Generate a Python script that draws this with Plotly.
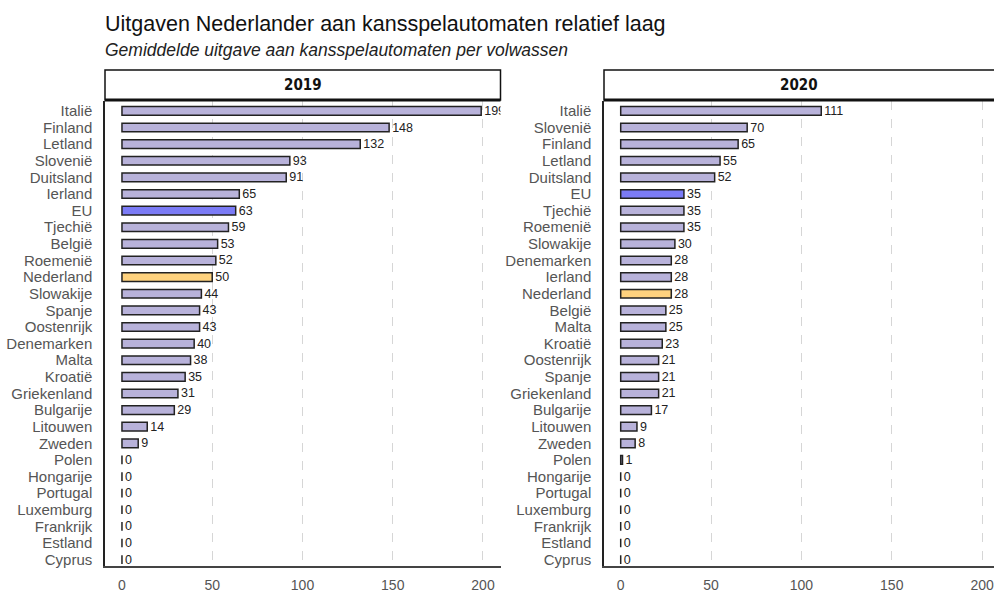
import plotly.graph_objects as go

# 2019
landen_2019 = ["Italië", "Finland", "Letland", "Slovenië", "Duitsland", "Ierland", "EU", "Tjechië",
               "België", "Roemenië", "Nederland", "Slowakije", "Spanje", "Oostenrijk", "Denemarken",
               "Malta", "Kroatië", "Griekenland", "Bulgarije", "Litouwen", "Zweden", "Polen",
               "Hongarije", "Portugal", "Luxemburg", "Frankrijk", "Estland", "Cyprus"]
uitgave_2019 = [199, 148, 132, 93, 91, 65, 63, 59, 53, 52, 50, 44, 43, 43, 40, 38, 35, 31, 29, 14, 9,
                0, 0, 0, 0, 0, 0, 0]

# 2020
landen_2020 = ["Italië", "Slovenië", "Finland", "Letland", "Duitsland", "EU", "Tjechië", "Roemenië",
               "Slowakije", "Denemarken", "Ierland", "Nederland", "België", "Malta", "Kroatië",
               "Oostenrijk", "Spanje", "Griekenland", "Bulgarije", "Litouwen", "Zweden", "Polen",
               "Hongarije", "Portugal", "Luxemburg", "Frankrijk", "Estland", "Cyprus"]
uitgave_2020 = [111, 70, 65, 55, 52, 35, 35, 35, 30, 28, 28, 28, 25, 25, 23, 21, 21, 21, 17, 9, 8,
                1, 0, 0, 0, 0, 0, 0]

x_ticks = [0, 50, 100, 150, 200]

KLEUR_STANDAARD = "#b8b2da"
KLEUR_EU = "#7b7bf6"
KLEUR_NL = "#fed27e"
FONT = "Liberation Sans, Arial, sans-serif"


def kleur(land):
    if land == "EU":
        return KLEUR_EU
    if land == "Nederland":
        return KLEUR_NL
    return KLEUR_STANDAARD


def staaf(landen, waarden, xa, ya):
    return go.Bar(
        x=waarden, y=landen, orientation="h", xaxis=xa, yaxis=ya,
        width=0.52,
        marker=dict(color=[kleur(l) for l in landen], line=dict(color="#222222", width=1.5)),
        text=[str(v) for v in waarden], textposition="outside", cliponaxis=True,
        constraintext="none",
        textfont=dict(family=FONT, size=12.5, color="#222222"),
        showlegend=False, hoverinfo="x+y",
    )


fig = go.Figure()
fig.add_trace(staaf(landen_2019, uitgave_2019, "x", "y"))
fig.add_trace(staaf(landen_2020, uitgave_2020, "x2", "y2"))

H = 593
y_dom = [(H - 578) / H, (H - 103) / H]
links = [105 / 994, 500.5 / 994]
rechts = [604 / 994, 1.0]

x_stijl = dict(
    tickvals=x_ticks, showgrid=False, zeroline=False,
    showline=True, linecolor="#444444", linewidth=1.5,
    ticks="", ticklabelstandoff=5,
    tickfont=dict(family=FONT, size=14, color="#555555"),
    minor=dict(tickvals=x_ticks[1:], showgrid=True, gridcolor="#d6d6d6", gridwidth=1, griddash="dash"),
    fixedrange=True,
)
y_stijl = dict(
    type="category", range=[27.4, -0.6], showgrid=False, zeroline=False,
    showline=True, linecolor="#222222", linewidth=1.5, ticks="", ticklabelstandoff=8,
    tickfont=dict(family=FONT, size=15, color="#555555"),
    tickmode="array",
    fixedrange=True,
)

fig.update_layout(
    width=994, height=593,
    margin=dict(l=0, r=0, t=0, b=0),
    paper_bgcolor="white", plot_bgcolor="white",
    xaxis=dict(domain=links, range=[-9.4, 209.7], anchor="y", **x_stijl),
    yaxis=dict(domain=y_dom, anchor="x", tickvals=landen_2019, ticktext=landen_2019, **y_stijl),
    xaxis2=dict(domain=rechts, range=[-9.24, 206.6], anchor="y2", **x_stijl),
    yaxis2=dict(domain=y_dom, anchor="x2", tickvals=landen_2020, ticktext=landen_2020, **y_stijl),
)

# titel en ondertitel
fig.add_annotation(
    text="Uitgaven Nederlander aan kansspelautomaten relatief laag",
    xref="paper", yref="paper", x=103 / 994, y=(H - 25) / H, xanchor="left", yanchor="middle",
    showarrow=False, font=dict(family=FONT, size=21.5, color="#111111"),
)
fig.add_annotation(
    text="<i>Gemiddelde uitgave aan kansspelautomaten per volwassen</i>",
    xref="paper", yref="paper", x=103 / 994, y=(H - 51) / H, xanchor="left", yanchor="middle",
    showarrow=False, font=dict(family=FONT, size=17.5, color="#222222"),
)

# strip-koppen
strip_boven = (H - 71.5) / H
strip_onder = (H - 102) / H
for dom, jaar in [(links, "2019"), (rechts, "2020")]:
    x1 = dom[1] if dom[1] < 1 else 1.01
    fig.add_shape(type="rect", xref="paper", yref="paper", x0=dom[0], x1=x1,
                  y0=strip_onder, y1=strip_boven, line=dict(color="#111111", width=1.5),
                  fillcolor="white", layer="above")
    fig.add_shape(type="line", xref="paper", yref="paper", x0=dom[0], x1=x1,
                  y0=strip_onder, y1=strip_onder, line=dict(color="#111111", width=3), layer="above")
    fig.add_annotation(
        text="<b>" + jaar + "</b>", xref="paper", yref="paper",
        x=(dom[0] + dom[1]) / 2,
        y=(strip_boven + strip_onder) / 2, xanchor="center", yanchor="middle", showarrow=False,
        font=dict(family="Liberation Sans Narrow, DejaVu Sans Condensed, Arial Narrow, sans-serif",
                  size=15, color="#111111"),
    )

fig.write_html("out.html", config={"displayModeBar": False},
               post_script="document.body.style.margin='0';")
